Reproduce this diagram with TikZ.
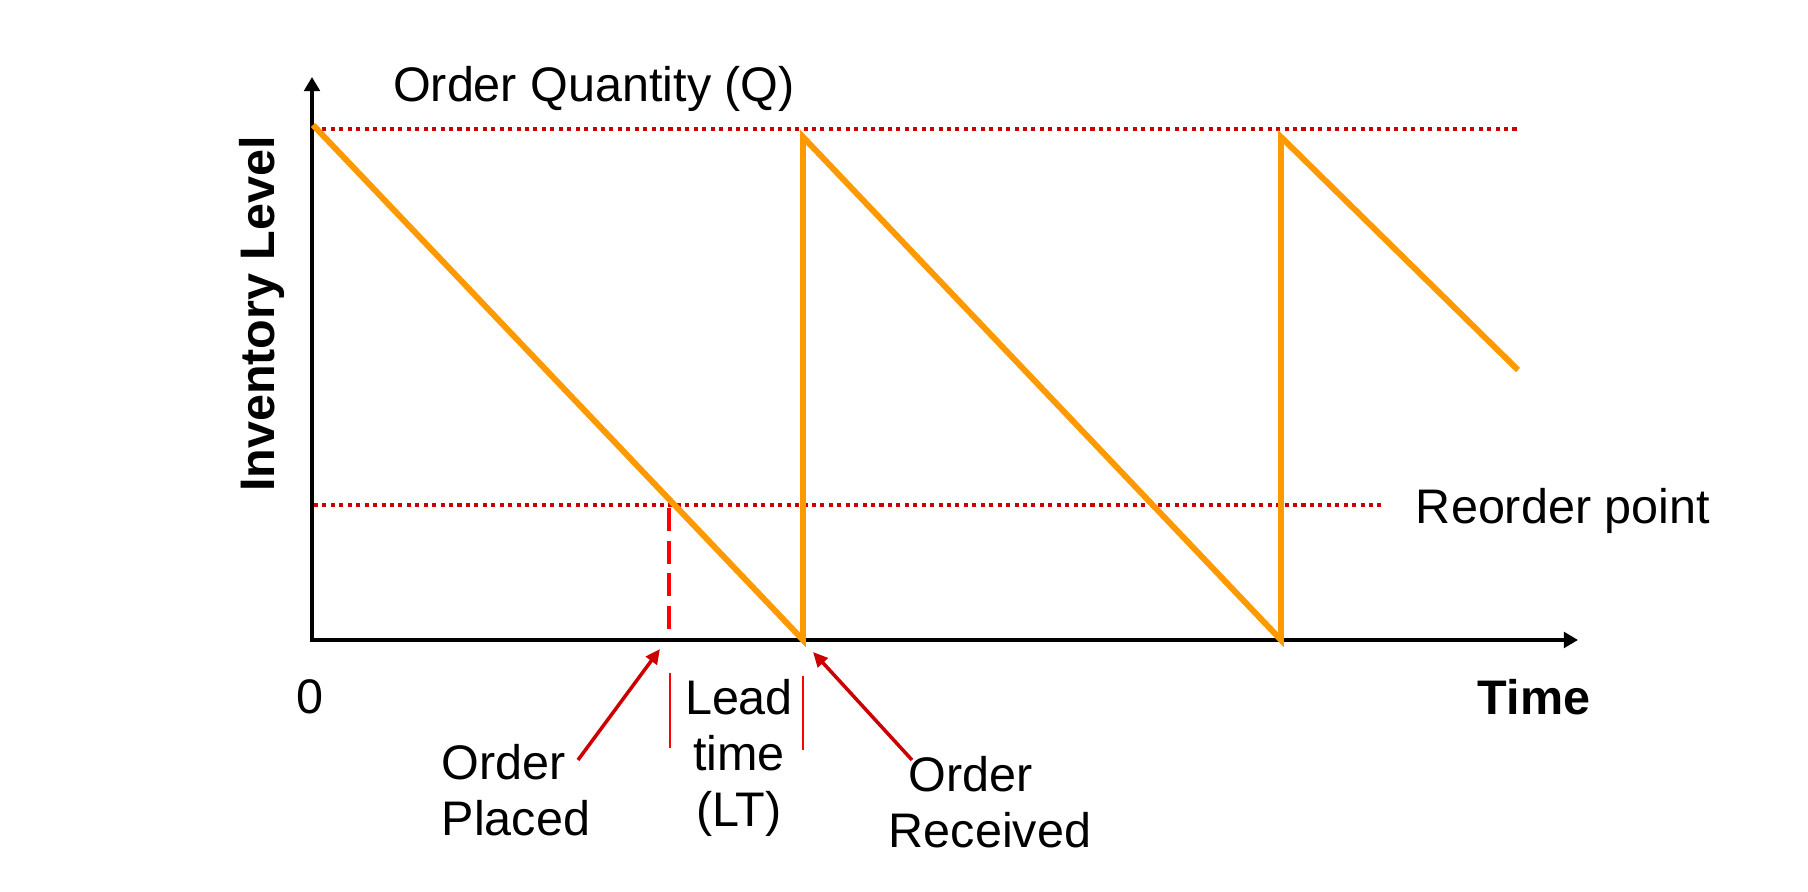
\documentclass[tikz,border=0pt]{standalone}
\usepackage{fontspec}
\setmainfont{Liberation Sans}
\usepackage{xcolor}
\usepackage{tikz}
\usetikzlibrary{arrows.meta}
\definecolor{stockorange}{RGB}{255,153,0}
\definecolor{levelred}{RGB}{204,0,0}
\definecolor{leadred}{RGB}{255,0,0}

\begin{document}
\begin{tikzpicture}[x=0.01cm, y=-0.01cm,
    every node/.style={font=\fontsize{13.8}{16}\selectfont, align=center, inner sep=0pt},
    axis/.style={line width=1.3pt, {Triangle[length=4pt,width=4.4pt]}-{Triangle[length=4pt,width=4.4pt]}},
    levelline/.style={levelred, line width=1.15pt, dash pattern=on 1.15pt off 1.25pt},
    stock/.style={stockorange, line width=1.7pt},
    callout/.style={levelred, line width=1pt, -{Triangle[length=4.2pt,width=3.8pt]}},
    leadbar/.style={leadred, line width=0.55pt}]
            \useasboundingbox (0,0) rectangle (1808,892);
            % axes
            \coordinate (origin) at (312,640);
            \coordinate (ytip) at (312,77);
            \coordinate (xtip) at (1578,640);
            \draw[axis] (ytip) -- (origin) -- (xtip);
            % Q and reorder levels
            \draw[levelline] (314,129) -- (1520,129);
            \draw[levelline] (314,505) -- (1381,505);
            % sawtooth
            \draw[stock] (313,125) -- (803,640) -- (803,137) -- (1281,640) -- (1281,137) -- (1518,370);
            \draw[leadred, line width=1.1pt, dash pattern=on 6.5pt off 2.8pt] (669,508) -- (669,636);
            % labels
            \node (qty) at (594,89) {Order Quantity (Q)};
            \node (rop) at (1563,511) {Reorder point};
            \node[rotate=90, font=\fontsize{13.8}{16}\selectfont\bfseries] (ylabel) at (262,314) {Inventory Level};
            \node (zero) at (310,697) {0};
            \node[font=\fontsize{13.8}{16}\selectfont\bfseries] (time) at (1534,697) {Time};
            \node (lead) at (739,758) {Lead\\time\\(LT)};
            \node[align=left] (placed) at (516,790) {Order\\Placed};
            \node (received) at (990,802) {Order\hspace*{11pt}\\Received};
            % lead time bars
            \draw[leadbar] (670,673) -- (670,748);
            \draw[leadbar] (803,676) -- (803,750);
            % callouts
            \coordinate (placedfoot) at (578,760);
            \coordinate (placedtip) at (660,649);
            \coordinate (receivedfoot) at (912,760);
            \coordinate (receivedtip) at (813,652);
            \draw[callout] (placedfoot) -- (placedtip);
            \draw[callout] (receivedfoot) -- (receivedtip);
        \end{tikzpicture}
\end{document}
